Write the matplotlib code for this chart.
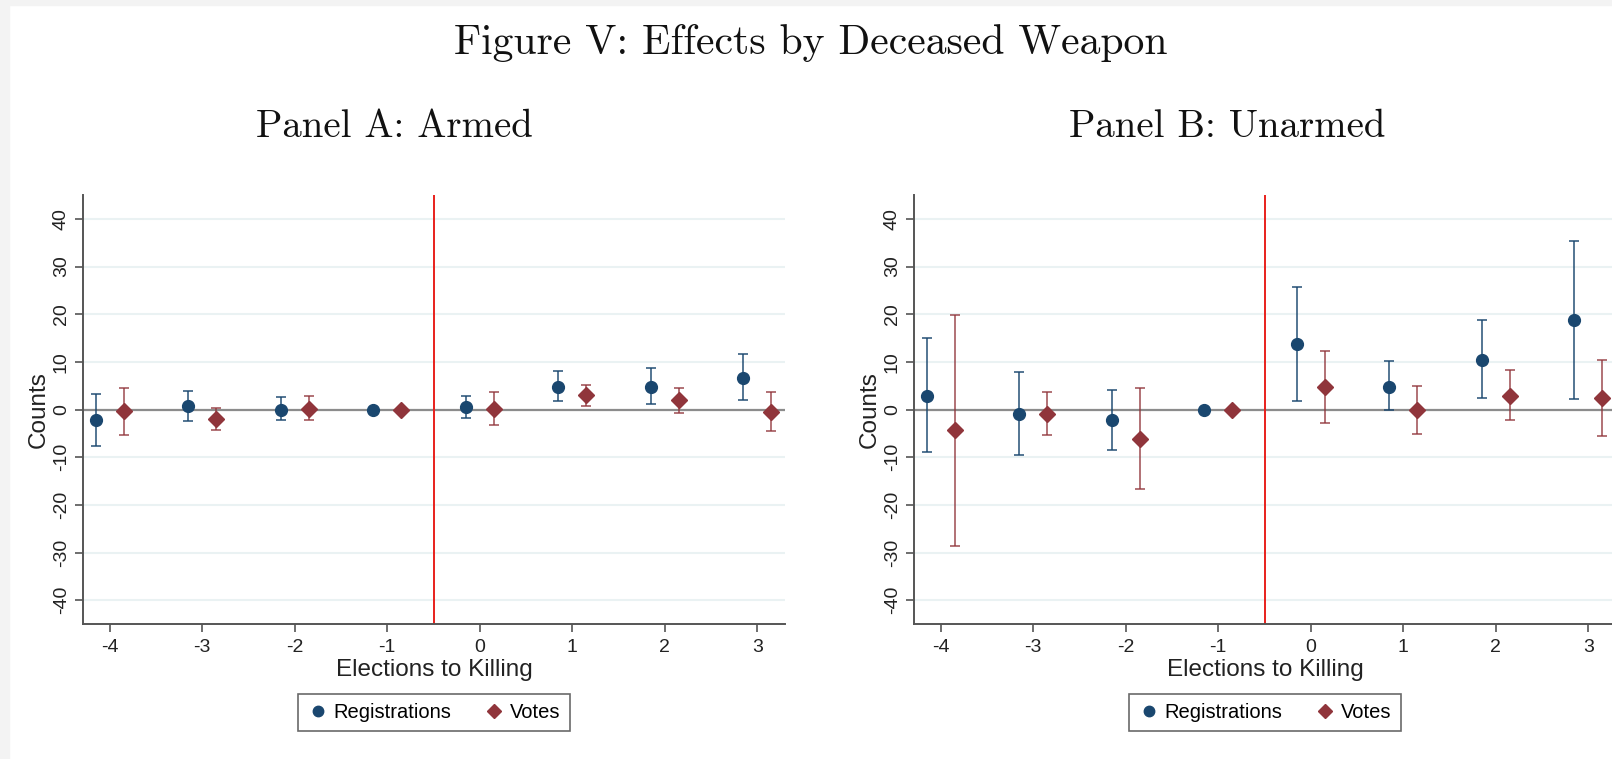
import numpy as np
import matplotlib
matplotlib.use("Agg")
import matplotlib.pyplot as plt
from matplotlib.lines import Line2D
from matplotlib.patches import Rectangle

plt.rcParams["axes.unicode_minus"] = False

# Elections relative to the killing
periods = [-4, -3, -2, -1, 0, 1, 2, 3]

# Panel A: Armed
armed_reg = [-2.3, 0.7, 0.0, 0.0, 0.5, 4.8, 4.8, 6.7]
armed_reg_lo = [-7.7, -2.5, -2.2, 0.0, -1.7, 1.7, 1.1, 1.9]
armed_reg_hi = [3.3, 3.8, 2.6, 0.0, 2.9, 8.0, 8.7, 11.7]
armed_vote = [-0.3, -2.0, 0.2, 0.0, 0.15, 3.05, 2.0, -0.55]
armed_vote_lo = [-5.3, -4.2, -2.3, 0.0, -3.2, 0.8, -0.8, -4.6]
armed_vote_hi = [4.5, 0.35, 2.9, 0.0, 3.75, 5.2, 4.6, 3.75]

# Panel B: Unarmed
unarmed_reg = [2.85, -1.0, -2.3, 0.0, 13.7, 4.8, 10.35, 18.8]
unarmed_reg_lo = [-9.0, -9.6, -8.4, 0.0, 1.7, -0.2, 2.4, 2.15]
unarmed_reg_hi = [15.0, 7.85, 4.1, 0.0, 25.8, 10.2, 18.7, 35.4]
unarmed_vote = [-4.4, -1.0, -6.1, 0.0, 4.65, 0.0, 2.9, 2.4]
unarmed_vote_lo = [-28.6, -5.4, -16.7, 0.0, -2.9, -5.1, -2.3, -5.6]
unarmed_vote_hi = [19.9, 3.7, 4.6, 0.0, 12.3, 5.0, 8.3, 10.4]

navy = "#1a476f"
maroon = "#90353b"
sans = "Liberation Sans"
serif = "cmr10"

W, H = 1612, 759
fig = plt.figure(figsize=(W / 100, H / 100), dpi=100)
fig.patch.set_facecolor("white")
# light grey strip on the top and left edges
fig.patches.append(Rectangle((0, 1 - 5 / H), 1, 5 / H, transform=fig.transFigure,
                             color="#f3f3f3", zorder=-10))
fig.patches.append(Rectangle((0, 0), 9 / W, 1, transform=fig.transFigure,
                             color="#f3f3f3", zorder=-10))

fig.text(811 / W, 1 - 43 / H, "Figure V: Effects by Deceased Weapon",
         ha="center", va="center", fontsize=30, family=serif, color="#111")


def panel(rect, title, title_x, reg, reg_lo, reg_hi, vote, vote_lo, vote_hi):
    ax = fig.add_axes(rect)
    x = np.array(periods, dtype=float)
    reg, vote = np.array(reg), np.array(vote)
    reg_err = [reg - np.array(reg_lo), np.array(reg_hi) - reg]
    vote_err = [vote - np.array(vote_lo), np.array(vote_hi) - vote]

    ax.axhline(0, color="#8c8c8c", lw=1.6, zorder=1)
    ax.axvline(-0.5, color="#e8201c", lw=1.4, zorder=1)
    ax.errorbar(x - 0.15, reg, yerr=reg_err, fmt="none", ecolor=navy, alpha=0.75,
                elinewidth=1.4, capsize=3.5, capthick=1.4, zorder=2)
    ax.errorbar(x + 0.15, vote, yerr=vote_err, fmt="none", ecolor=maroon, alpha=0.7,
                elinewidth=1.4, capsize=3.5, capthick=1.4, zorder=2)
    ax.plot(x - 0.15, reg, "o", color=navy, ms=8.5, zorder=3)
    ax.plot(x + 0.15, vote, "D", color=maroon, ms=8, zorder=3)

    ax.set_xlim(-4.29, 3.3)
    ax.set_ylim(-45, 45)
    ax.set_yticks(range(-40, 41, 10))
    ax.set_xticks(periods)
    ax.grid(axis="y", color="#eaf2f3", lw=1.5)
    ax.set_axisbelow(True)
    for s in ("top", "right"):
        ax.spines[s].set_visible(False)
    for s in ("left", "bottom"):
        ax.spines[s].set_color("#555555")
        ax.spines[s].set_linewidth(1.4)
    ax.tick_params(colors="#555555", width=1.2, length=6, labelcolor="#222222",
                   labelsize=14)
    ax.tick_params(axis="x", pad=5)
    for lab in ax.get_yticklabels():
        lab.set_rotation(90)
        lab.set_va("center")
        lab.set_family(sans)
    for lab in ax.get_xticklabels():
        lab.set_family(sans)
    ax.set_ylabel("Counts", family=sans, fontsize=17.5, color="#222222", labelpad=2)
    ax.set_xlabel("Elections to Killing", family=sans, fontsize=17.5, color="#222222",
                  labelpad=2)

    handles = [
        Line2D([], [], ls="none", marker="o", color=navy, ms=7.5),
        Line2D([], [], ls="none", marker="D", color=maroon, ms=7.5),
    ]
    leg = ax.legend(handles, ["Registrations", "Votes"], loc="center",
                    bbox_to_anchor=(0.5, -0.207), ncol=2, frameon=True,
                    fancybox=False, prop={"family": sans, "size": 14.5},
                    handletextpad=0.3, columnspacing=1.6, handlelength=1.0,
                    borderpad=0.45, borderaxespad=0)
    leg.get_frame().set_edgecolor("#444444")
    leg.get_frame().set_linewidth(1.2)

    fig.text(title_x / W, 1 - 127 / H, title, ha="center", va="center",
             fontsize=28, family=serif, color="#111")
    return ax


bottom = 1 - 624 / H
height = 429 / H
width = 702 / W
panel([83 / W, bottom, width, height], "Panel A: Armed", 394,
      armed_reg, armed_reg_lo, armed_reg_hi, armed_vote, armed_vote_lo, armed_vote_hi)
panel([914 / W, bottom, width, height], "Panel B: Unarmed", 1227,
      unarmed_reg, unarmed_reg_lo, unarmed_reg_hi, unarmed_vote, unarmed_vote_lo,
      unarmed_vote_hi)

fig.savefig("out.png", dpi=100)
